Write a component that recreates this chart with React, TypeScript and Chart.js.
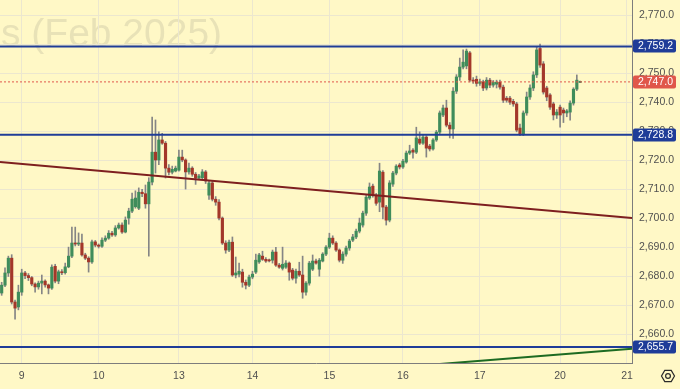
import { useEffect, useRef } from 'react';
import { Chart, registerables } from 'chart.js';

Chart.register(...registerables);

// ---- data (hourly candles, Gold futures Feb 2025 contract) ----
const opens = [
  2674.3, 2677.0, 2681.2, 2686.3, 2671.2, 2669.5, 2674.6, 2681.2, 2680.3, 2679.6,
  2677.4, 2676.4, 2677.7, 2678.4, 2677.1, 2676.0, 2683.5, 2678.4, 2681.6, 2681.3,
  2683.3, 2687.0, 2691.5, 2691.2, 2691.5, 2687.4, 2686.3, 2685.0, 2691.9, 2690.8,
  2690.4, 2692.5, 2693.2, 2694.9, 2694.3, 2696.7, 2697.7, 2695.3, 2700.1, 2702.5,
  2704.0, 2703.5, 2709.0, 2708.5, 2705.0, 2712.5, 2722.8, 2720.1, 2727.0, 2725.9,
  2717.3, 2715.9, 2716.3, 2716.6, 2721.1, 2720.1, 2716.0, 2717.3, 2715.2, 2713.9,
  2714.0, 2716.0, 2708.0, 2712.2, 2706.6, 2705.6, 2700.1, 2691.5, 2689.1, 2691.8,
  2680.5, 2680.8, 2681.5, 2678.0, 2677.0, 2679.8, 2681.5, 2685.0, 2687.0, 2685.9,
  2685.6, 2685.6, 2688.4, 2683.9, 2682.8, 2683.2, 2684.6, 2682.2, 2679.4, 2681.8,
  2680.5, 2674.6, 2677.7, 2682.5, 2685.3, 2682.5, 2685.3, 2687.7, 2690.1, 2693.2,
  2691.5, 2689.1, 2685.6, 2687.7, 2689.8, 2692.5, 2693.6, 2695.6, 2697.7, 2701.8,
  2707.0, 2711.1, 2708.0, 2705.6, 2715.9, 2703.9, 2699.4, 2711.8, 2715.6, 2718.4,
  2717.7, 2719.4, 2722.5, 2723.5, 2722.8, 2727.3, 2725.9, 2728.0, 2724.9, 2723.9,
  2727.0, 2729.7, 2735.6, 2738.0, 2732.1, 2730.8, 2743.8, 2748.7, 2752.1, 2752.5,
  2757.0, 2747.6, 2747.9, 2746.5, 2747.0, 2744.9, 2747.6, 2745.9, 2746.2, 2746.9,
  2745.2, 2741.4, 2741.4, 2740.3, 2739.4, 2731.1, 2729.0, 2736.3, 2741.8, 2744.9,
  2749.4, 2758.5, 2753.2, 2744.9, 2742.5, 2739.4, 2735.6, 2738.3, 2737.3, 2736.3,
  2736.6, 2739.7, 2744.5, 2747.0,
];
const highs = [
  2678.0, 2683.0, 2687.0, 2687.5, 2671.9, 2677.0, 2682.5, 2681.8, 2681.0, 2680.0,
  2677.8, 2678.4, 2680.5, 2678.8, 2677.4, 2684.0, 2684.2, 2682.2, 2682.4, 2684.6,
  2690.1, 2697.0, 2697.0, 2695.0, 2694.6, 2688.0, 2686.8, 2692.5, 2692.4, 2691.2,
  2693.3, 2694.0, 2695.8, 2695.5, 2697.5, 2698.4, 2698.5, 2700.5, 2703.5, 2708.7,
  2709.5, 2710.5, 2710.0, 2711.5, 2714.0, 2734.9, 2733.9, 2729.8, 2729.3, 2726.5,
  2718.5, 2718.0, 2718.0, 2723.5, 2723.5, 2720.5, 2719.0, 2717.8, 2715.8, 2715.2,
  2716.8, 2716.5, 2713.0, 2712.8, 2707.5, 2706.5, 2700.5, 2692.3, 2692.5, 2693.6,
  2686.7, 2684.6, 2682.5, 2678.8, 2680.5, 2681.8, 2687.7, 2688.0, 2688.7, 2686.5,
  2686.0, 2689.1, 2690.0, 2684.5, 2690.1, 2685.5, 2685.0, 2682.8, 2682.5, 2684.9,
  2687.0, 2678.2, 2685.2, 2687.4, 2686.0, 2686.2, 2688.2, 2690.6, 2694.9, 2694.0,
  2692.0, 2689.5, 2688.5, 2690.5, 2692.8, 2694.5, 2696.3, 2700.1, 2702.5, 2708.0,
  2712.2, 2711.8, 2708.6, 2719.0, 2716.5, 2704.5, 2713.0, 2716.2, 2718.5, 2719.0,
  2720.3, 2723.2, 2725.2, 2724.0, 2731.4, 2729.8, 2728.6, 2728.5, 2725.5, 2727.5,
  2730.3, 2737.0, 2739.0, 2740.7, 2733.0, 2745.0, 2749.5, 2755.2, 2758.0, 2758.3,
  2757.5, 2748.5, 2749.0, 2748.0, 2747.6, 2748.5, 2748.2, 2747.5, 2747.6, 2747.6,
  2745.9, 2742.0, 2742.0, 2741.0, 2740.0, 2732.5, 2737.0, 2743.5, 2746.0, 2750.5,
  2759.2, 2760.0, 2754.0, 2745.5, 2743.0, 2740.0, 2737.5, 2739.0, 2738.0, 2737.5,
  2740.5, 2745.0, 2749.4, 2747.3,
];
const lows = [
  2673.5, 2676.5, 2680.0, 2670.5, 2665.3, 2668.5, 2673.5, 2679.2, 2678.6, 2676.8,
  2674.6, 2675.6, 2674.0, 2676.3, 2674.0, 2675.5, 2677.8, 2677.5, 2680.6, 2680.8,
  2683.0, 2686.5, 2690.5, 2690.6, 2687.0, 2685.8, 2681.5, 2684.5, 2690.2, 2689.8,
  2690.0, 2692.0, 2692.8, 2693.8, 2693.8, 2696.3, 2694.8, 2695.0, 2698.0, 2702.0,
  2703.5, 2703.0, 2707.5, 2703.5, 2687.0, 2711.5, 2715.6, 2718.5, 2725.5, 2713.9,
  2715.0, 2715.3, 2716.0, 2716.3, 2719.5, 2710.1, 2715.2, 2714.5, 2711.7, 2713.5,
  2713.5, 2712.0, 2706.5, 2706.0, 2704.5, 2699.5, 2691.0, 2688.0, 2688.5, 2680.0,
  2679.5, 2679.8, 2676.3, 2675.7, 2676.5, 2679.2, 2681.0, 2684.5, 2685.5, 2684.8,
  2685.0, 2684.6, 2683.5, 2682.8, 2682.2, 2682.8, 2678.7, 2678.8, 2677.7, 2680.0,
  2672.5, 2673.6, 2677.0, 2682.0, 2684.2, 2680.1, 2685.0, 2687.2, 2689.6, 2691.0,
  2688.6, 2685.0, 2684.5, 2687.0, 2689.0, 2692.0, 2693.0, 2695.0, 2697.0, 2701.0,
  2706.5, 2707.3, 2704.5, 2702.3, 2699.8, 2697.7, 2698.8, 2711.0, 2715.0, 2717.0,
  2717.2, 2719.0, 2722.0, 2720.7, 2722.3, 2725.4, 2725.5, 2721.1, 2723.2, 2723.5,
  2726.5, 2729.0, 2735.0, 2731.5, 2727.7, 2727.5, 2743.0, 2747.5, 2751.5, 2751.5,
  2747.0, 2746.5, 2745.5, 2745.8, 2744.0, 2744.2, 2745.0, 2745.2, 2744.9, 2744.5,
  2739.9, 2740.0, 2739.2, 2738.6, 2729.8, 2728.5, 2728.5, 2735.5, 2741.0, 2744.0,
  2748.5, 2752.0, 2742.8, 2740.5, 2737.5, 2733.9, 2734.4, 2731.4, 2733.0, 2735.0,
  2733.8, 2739.0, 2744.0, 2746.7,
];
const closes = [
  2677.0, 2681.2, 2686.3, 2671.2, 2669.1, 2674.6, 2681.2, 2680.3, 2679.6, 2677.4,
  2676.4, 2677.7, 2678.4, 2677.1, 2676.0, 2683.2, 2678.4, 2681.6, 2681.3, 2683.3,
  2687.0, 2691.5, 2691.2, 2691.5, 2687.4, 2686.3, 2685.0, 2691.9, 2690.8, 2690.4,
  2692.5, 2693.2, 2694.9, 2694.3, 2696.7, 2697.7, 2695.3, 2699.4, 2702.5, 2706.6,
  2707.0, 2709.0, 2708.5, 2705.0, 2712.5, 2722.8, 2720.1, 2727.0, 2725.9, 2717.3,
  2715.9, 2716.9, 2717.3, 2721.1, 2720.1, 2716.0, 2717.3, 2715.2, 2713.9, 2714.6,
  2716.0, 2712.9, 2712.2, 2706.6, 2705.6, 2700.1, 2691.5, 2689.1, 2691.8, 2680.5,
  2681.2, 2681.8, 2678.0, 2677.0, 2679.8, 2680.8, 2685.6, 2687.4, 2685.9, 2685.3,
  2685.5, 2688.4, 2683.9, 2683.2, 2684.2, 2684.6, 2681.5, 2679.4, 2681.8, 2680.5,
  2674.6, 2677.7, 2684.6, 2685.3, 2684.6, 2685.6, 2687.7, 2690.1, 2693.2, 2691.5,
  2689.1, 2685.6, 2687.7, 2689.8, 2692.2, 2693.6, 2695.6, 2698.4, 2701.8, 2707.3,
  2710.8, 2708.0, 2705.2, 2716.3, 2703.9, 2699.4, 2712.2, 2715.6, 2718.0, 2717.7,
  2719.7, 2722.5, 2723.2, 2722.8, 2727.7, 2725.9, 2728.0, 2724.2, 2723.9, 2727.0,
  2729.7, 2736.3, 2738.0, 2732.1, 2730.8, 2743.8, 2748.7, 2752.1, 2753.8, 2757.6,
  2747.6, 2747.3, 2746.5, 2747.0, 2744.9, 2747.6, 2745.9, 2746.9, 2746.9, 2745.2,
  2740.7, 2740.7, 2740.0, 2739.4, 2730.4, 2729.0, 2736.3, 2741.8, 2744.9, 2749.4,
  2758.0, 2752.8, 2743.5, 2741.8, 2738.3, 2735.6, 2736.6, 2735.6, 2736.3, 2737.0,
  2739.7, 2744.5, 2747.6, 2747.0,
];

const totalSlots = 189;
const dayLabels = ['9', '10', '13', '14', '15', '16', '17', '20', '21'];
const dayStartSlots = [6, 29, 53, 75, 98, 120, 143, 167, 187];
const priceTicks = [2660, 2670, 2680, 2690, 2700, 2710, 2720, 2730, 2740, 2750, 2760, 2770];
const priceMin = 2650.2;
const priceMax = 2775.2;
const levelPrices = [2759.2, 2728.8, 2655.7];
const lastPrice = 2747.0;
const redTrendY = [2719.4, 2700.1];
const redTrendX = [0, 1];
const greenTrendY = [2648.2, 2655.1];
const greenTrendX = [0.6, 1];
const watermarkText = 's (Feb 2025)';

const BG = '#fff8c6';
const GRID = '#ece7cf';
const AXIS = '#7d7d7d';
const TEXT = '#505050';
const UP = '#3f8c5b';
const DOWN = '#a3372a';
const WICK = '#858585';
const LEVEL = '#1f3c98';
const LAST = '#e0574a';
const FONT = "'Liberation Sans', Arial, sans-serif";

const fmt = (v: number) =>
  v.toLocaleString('en-US', { minimumFractionDigits: 1, maximumFractionDigits: 1 });

export default function App() {
  const ref = useRef<HTMLCanvasElement | null>(null);

  useEffect(() => {
    const canvas = ref.current;
    if (!canvas) return;

    const slotLabels: string[] = [];
    for (let i = 0; i < totalSlots; i++) {
      const k = dayStartSlots.indexOf(i);
      slotLabels.push(k >= 0 ? dayLabels[k] : '');
    }

    const bodies = opens.map((o, i) => {
      const c = closes[i];
      let lo = Math.min(o, c);
      let hi = Math.max(o, c);
      if (hi - lo < 0.35) {
        const m = (hi + lo) / 2;
        lo = m - 0.18;
        hi = m + 0.18;
      }
      return [lo, hi];
    });
    const bodyColors = opens.map((o, i) => (closes[i] >= o ? UP : DOWN));
    const wicks = lows.map((l, i) => [l, highs[i]]);

    const bgPlugin = {
      id: 'bgWatermark',
      beforeDraw(chart: any) {
        const { ctx, width, height } = chart;
        ctx.save();
        ctx.fillStyle = BG;
        ctx.fillRect(0, 0, width, height);
        ctx.font = `39px ${FONT}`;
        ctx.fillStyle = 'rgba(90, 90, 90, 0.14)';
        ctx.textBaseline = 'alphabetic';
        ctx.textAlign = 'left';
        ctx.fillText(watermarkText, 1, 46);
        ctx.restore();
      },
    };

    const labelPlugin = {
      id: 'priceLabels',
      afterDraw(chart: any) {
        const { ctx, chartArea } = chart;
        const y = chart.scales.y;
        const drawBox = (v: number, color: string) => {
          const py = Math.round(y.getPixelForValue(v));
          const x0 = chartArea.right + 1;
          const w = 43;
          const h = 13;
          ctx.fillStyle = color;
          ctx.beginPath();
          ctx.roundRect(x0, py - h / 2, w, h, 2);
          ctx.fill();
          ctx.fillStyle = '#ffffff';
          ctx.font = `10.5px ${FONT}`;
          ctx.textAlign = 'center';
          ctx.textBaseline = 'middle';
          ctx.fillText(fmt(v), x0 + w / 2 + 1, py + 0.5);
        };
        ctx.save();
        levelPrices.forEach((v) => drawBox(v, LEVEL));
        drawBox(lastPrice, LAST);
        // settings icon
        const cx = 668;
        const cy = 376;
        ctx.strokeStyle = '#2a2a2a';
        ctx.lineWidth = 1.2;
        ctx.beginPath();
        for (let k = 0; k < 6; k++) {
          const a = (Math.PI / 3) * k;
          const px = cx + 6.5 * Math.cos(a);
          const pyy = cy + 6.5 * Math.sin(a);
          if (k === 0) ctx.moveTo(px, pyy);
          else ctx.lineTo(px, pyy);
        }
        ctx.closePath();
        ctx.stroke();
        ctx.beginPath();
        ctx.arc(cx, cy, 2.4, 0, Math.PI * 2);
        ctx.stroke();
        ctx.restore();
      },
    };

    const hLine = (v: number, color: string, width: number, dash: number[] = []) => ({
      type: 'line' as const,
      data: [
        { x: 0, y: v },
        { x: 1, y: v },
      ],
      xAxisID: 'xl',
      yAxisID: 'y',
      borderColor: color,
      borderWidth: width,
      borderDash: dash,
      pointRadius: 0,
      order: 0,
    });

    const chart = new Chart(canvas, {
      type: 'bar',
      data: {
        labels: slotLabels,
        datasets: [
          {
            type: 'bar',
            data: wicks as any,
            backgroundColor: WICK,
            barThickness: 1,
            grouped: false,
            order: 3,
            xAxisID: 'x',
            yAxisID: 'y',
          } as any,
          {
            type: 'bar',
            data: bodies as any,
            backgroundColor: bodyColors,
            barThickness: 2.5,
            grouped: false,
            borderWidth: 0,
            order: 2,
            xAxisID: 'x',
            yAxisID: 'y',
          } as any,
          hLine(lastPrice, LAST, 1, [2, 2]),
          {
            type: 'line',
            data: redTrendX.map((x, i) => ({ x, y: redTrendY[i] })),
            xAxisID: 'xl',
            yAxisID: 'y',
            borderColor: '#7e1f1f',
            borderWidth: 2,
            pointRadius: 0,
            order: 0,
          } as any,
          {
            type: 'line',
            data: greenTrendX.map((x, i) => ({ x, y: greenTrendY[i] })),
            xAxisID: 'xl',
            yAxisID: 'y',
            borderColor: '#1d6b22',
            borderWidth: 2,
            pointRadius: 0,
            order: 0,
          } as any,
          ...levelPrices.map((v) => hLine(v, LEVEL, 2)),
        ] as any,
      },
      options: {
        responsive: false,
        animation: false,
        events: [],
        layout: { padding: 0 },
        plugins: {
          legend: { display: false },
          tooltip: { enabled: false },
        },
        scales: {
          x: {
            type: 'category',
            offset: true,
            grid: {
              offset: false,
              drawTicks: false,
              color: (ctx: any) => (dayStartSlots.includes(ctx.index) ? GRID : 'rgba(0,0,0,0)'),
            },
            border: { color: AXIS },
            ticks: {
              autoSkip: false,
              maxRotation: 0,
              minRotation: 0,
              padding: 7,
              color: TEXT,
              font: { family: FONT, size: 10.5 },
              callback: (_v: any, i: number) => slotLabels[i],
            },
            afterFit: (s: any) => {
              s.height = 26;
              s.paddingLeft = 0;
              s.paddingRight = 0;
            },
          },
          xl: {
            type: 'linear',
            display: false,
            offset: false,
            min: 0,
            max: 1,
            grid: { offset: false },
          },
          y: {
            type: 'linear',
            position: 'right',
            min: priceMin,
            max: priceMax,
            afterBuildTicks: (s: any) => {
              s.ticks = priceTicks.map((v) => ({ value: v }));
            },
            grid: { color: GRID, drawTicks: false },
            border: { color: AXIS },
            ticks: {
              padding: 7,
              color: TEXT,
              font: { family: FONT, size: 10.5 },
              callback: (v: any) => fmt(Number(v)),
            },
            afterFit: (s: any) => {
              s.width = 48;
              s.paddingTop = 0;
              s.paddingBottom = 0;
            },
          },
        } as any,
      },
      plugins: [bgPlugin, labelPlugin],
    });

    return () => chart.destroy();
  }, []);

  return (
    <div style={{ position: 'absolute', left: 0, top: 0, width: 680, height: 389 }}>
      <canvas ref={ref} width={680} height={389} />
    </div>
  );
}
